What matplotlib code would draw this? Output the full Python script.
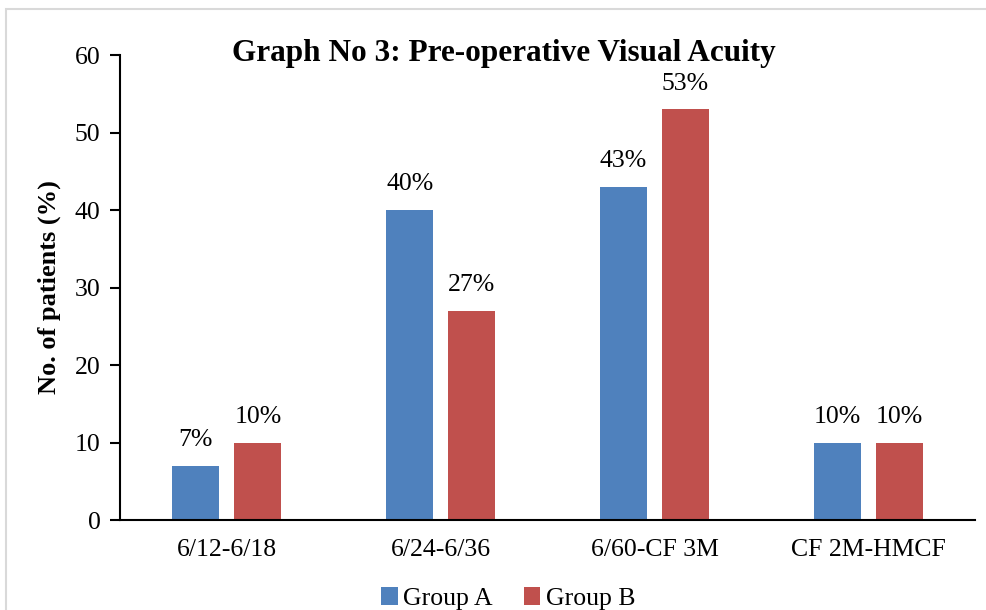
import matplotlib.pyplot as plt
import numpy as np
from matplotlib.patches import Rectangle

categories = ['6/12-6/18', '6/24-6/36', '6/60-CF 3M', 'CF 2M-HMCF']
group_a = [7, 40, 43, 10]
group_b = [10, 27, 53, 10]
series_names = ['Group A', 'Group B']
colors = ['#4F81BD', '#C0504D']

plt.rcParams['font.family'] = ['Liberation Serif', 'DejaVu Serif']

fig = plt.figure(figsize=(9.87, 6.1), dpi=100)
ax = fig.add_axes([0.1216, 0.1475, 0.8664, 0.7623])

# light grey frame around the chart area
fig.patches.append(Rectangle((0.006, -0.05), 1.1, 1.0357, transform=fig.transFigure,
                             fill=False, edgecolor='#D9D9D9', linewidth=1.5))

x = np.arange(len(categories))
w = 0.22
off = 0.145
bars_a = ax.bar(x - off, group_a, w, color=colors[0], label=series_names[0])
bars_b = ax.bar(x + off, group_b, w, color=colors[1], label=series_names[1])

for bars, vals in [(bars_a, group_a), (bars_b, group_b)]:
    for b, v in zip(bars, vals):
        ax.text(b.get_x() + b.get_width() / 2, v + 1.9, f'{v}%', ha='center', va='bottom', fontsize=18.5)

ax.set_xlim(-0.5, 3.5)
ax.set_ylim(0, 60)
ax.set_yticks(range(0, 61, 10))
ax.set_xticks(x)
ax.set_xticklabels(categories)
ax.tick_params(axis='y', labelsize=18.5, length=7, width=1.5, direction='out', pad=7)
ax.tick_params(axis='x', labelsize=18.5, length=0, pad=14)
for s in ['top', 'right']:
    ax.spines[s].set_visible(False)
ax.spines['left'].set_linewidth(1.5)
ax.spines['bottom'].set_linewidth(1.5)

ax.set_ylabel('No. of patients (%)', fontsize=19, fontweight='bold', labelpad=10)
fig.text(0.51, 0.912, 'Graph No 3: Pre-operative Visual Acuity', ha='center', va='center',
         fontsize=22.5, fontweight='bold')

fig.legend(loc='lower center', bbox_to_anchor=(0.515, -0.038), ncol=2, frameon=False,
           fontsize=18.5, handlelength=0.65, handleheight=0.65, handletextpad=0.2, columnspacing=1.2)

fig.savefig('out.png', dpi=100)
